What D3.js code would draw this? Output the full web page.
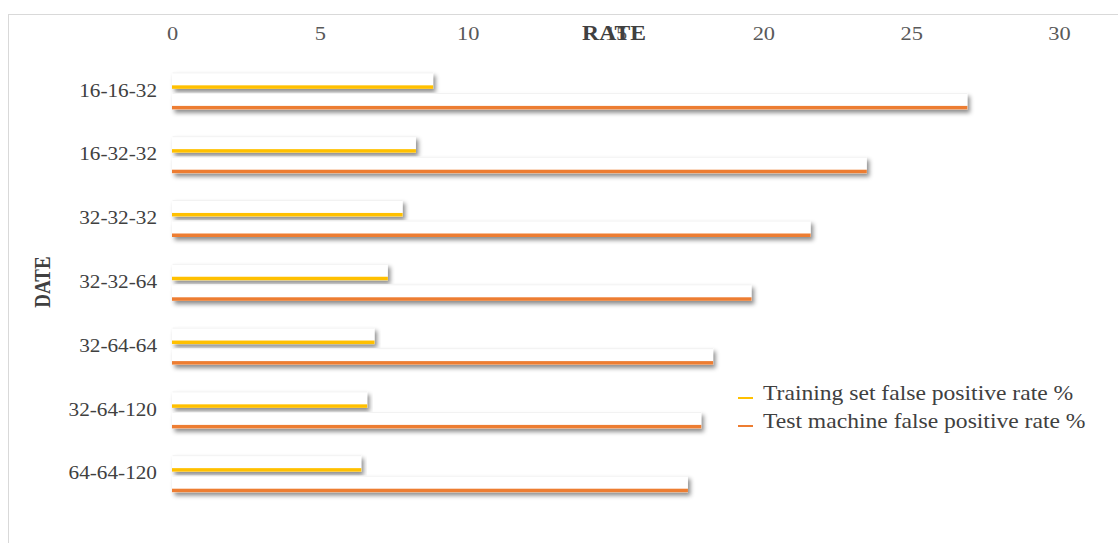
<!DOCTYPE html>
<html>
<head>
<meta charset="utf-8">
<script src="https://cdn.jsdelivr.net/npm/d3@7/dist/d3.min.js"></script>
<style>
  html, body { margin: 0; padding: 0; background: #fff; }
  svg { display: block; }
  text { font-family: "Liberation Serif", "Times New Roman", serif; }
</style>
</head>
<body>
<svg id="chart" width="1118" height="543"></svg>
<script>
const categories = ["16-16-32", "16-32-32", "32-32-32", "32-32-64", "32-64-64", "32-64-120", "64-64-120"];
const seriesNames = ["Training set false positive rate %", "Test machine false positive rate %"];
const trainingRate = [8.83, 8.25, 7.8, 7.3, 6.85, 6.6, 6.4];
const testRate = [26.9, 23.5, 21.6, 19.6, 18.3, 17.9, 17.45];
const seriesColors = ["#FFC000", "#ED7D31"];
const xTicks = [0, 5, 10, 15, 20, 25, 30];

const SX = 1.18; // horizontal text stretch seen in the reference

const svg = d3.select("#chart");
const defs = svg.append("defs");
const f = defs.append("filter").attr("id", "shadow")
  .attr("x", "-2%").attr("y", "-50%").attr("width", "105%").attr("height", "220%");
f.append("feDropShadow").attr("dx", 2.5).attr("dy", 3.2).attr("stdDeviation", 1.9)
  .attr("flood-color", "#000").attr("flood-opacity", 0.45);

// frame
svg.append("rect").attr("x", 8.5).attr("y", 14.5).attr("width", 1130).attr("height", 560)
  .attr("fill", "none").attr("stroke", "#d9d9d9").attr("stroke-width", 1);

const x = d3.scaleLinear().domain([0, 30]).range([172, 1059]);
const y = d3.scaleBand().domain(categories).range([59, 505.6]).padding(0);
const inner = d3.scaleBand().domain(seriesNames).range([-18.5, 18.5]).paddingInner(0.2);

// x axis (top), labels only
const xAxis = svg.append("g").attr("transform", "translate(0,40)")
  .call(d3.axisTop(x).tickValues(xTicks).tickSize(0).tickPadding(0));
xAxis.select(".domain").remove();
xAxis.selectAll(".tick text")
  .attr("fill", "#595959").attr("font-size", 19)
  .attr("font-family", "Liberation Serif, serif")
  .attr("dy", 0).attr("x", 0)
  .attr("transform", `scale(${SX},1)`);

// category labels
const yAxis = svg.append("g").attr("transform", "translate(157,0)")
  .call(d3.axisLeft(y).tickSize(0).tickPadding(0));
yAxis.select(".domain").remove();
yAxis.selectAll(".tick text")
  .attr("fill", "#404040").attr("font-size", 18)
  .attr("font-family", "Liberation Serif, serif")
  .attr("dy", "0.32em")
  .attr("transform", `scale(${SX},1)`);

// bars
const rows = svg.append("g").selectAll("g.row").data(categories).join("g")
  .attr("class", "row")
  .attr("transform", d => `translate(0,${y(d) + y.bandwidth() / 2})`);

rows.each(function(cat, i) {
  const vals = [trainingRate[i], testRate[i]];
  const g = d3.select(this);
  seriesNames.forEach((s, j) => {
    const bg = g.append("g").attr("filter", "url(#shadow)");
    const y0 = inner(s), h = inner.bandwidth();
    const w = x(vals[j]) - x(0);
    bg.append("rect").attr("x", x(0)).attr("y", y0).attr("width", w).attr("height", h)
      .attr("fill", "#ffffff");
    bg.append("rect").attr("x", x(0)).attr("y", y0 + h - 3.5).attr("width", w).attr("height", 3.5)
      .attr("fill", seriesColors[j]);
    g.append("line").attr("x1", x(0) + 0.5).attr("x2", x(0) + w).attr("y1", y0 + 0.5).attr("y2", y0 + 0.5)
      .attr("stroke", "#f2f2f2").attr("stroke-width", 1);
  });
});

// axis titles
svg.append("text")
  .attr("transform", `translate(614,40) scale(${SX},1)`)
  .attr("text-anchor", "middle").attr("font-size", 20).attr("font-weight", "bold")
  .attr("fill", "#404040").text("RATE");

svg.append("text")
  .attr("transform", `translate(50,282) scale(${SX},1) rotate(-90)`)
  .attr("text-anchor", "middle").attr("font-size", 19).attr("font-weight", "bold")
  .attr("fill", "#404040").text("DATE");

// legend
const legend = svg.append("g");
const legY = [400, 428];
seriesNames.forEach((s, j) => {
  legend.append("line").attr("x1", 738).attr("x2", 753)
    .attr("y1", legY[j] - 2).attr("y2", legY[j] - 2)
    .attr("stroke", seriesColors[j]).attr("stroke-width", 2);
  legend.append("text")
    .attr("transform", `translate(763,${legY[j]}) scale(${SX},1)`)
    .attr("font-size", 20).attr("fill", "#404040").text(s);
});
</script>
</body>
</html>
